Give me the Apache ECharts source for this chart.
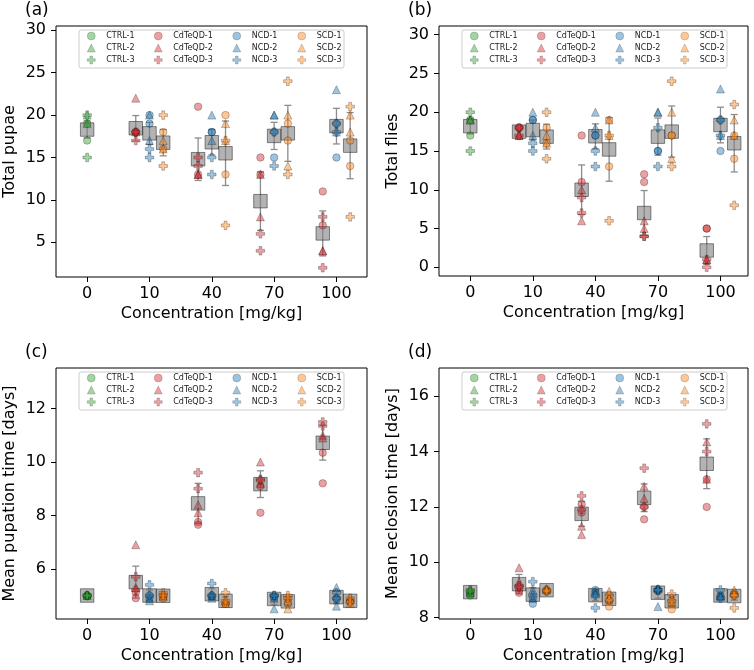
<!DOCTYPE html>
<html>
<head>
<meta charset="utf-8">
<script src="https://cdn.jsdelivr.net/npm/echarts@6/dist/echarts.min.js"></script>
<style>html,body{margin:0;padding:0;background:#fff;}#c{width:754px;height:670px;}</style>
</head>
<body>
<div id="c"></div>
<script>
// ---------- categories / labels ----------
const concLabels = ['0', '10', '40', '70', '100'];
const groupNames = ['CTRL', 'CdTeQD', 'NCD', 'SCD'];
const panelTags = ['(a)', '(b)', '(c)', '(d)'];
const yNames = ['Total pupae', 'Total flies', 'Mean pupation time [days]', 'Mean eclosion time [days]'];
const xName = 'Concentration [mg/kg]';

// tick labels per panel
const pupaeTicks = [5, 10, 15, 20, 25, 30];
const fliesTicks = [0, 5, 10, 15, 20, 25, 30];
const pupTimeTicks = [6, 8, 10, 12];
const eclTimeTicks = [8, 10, 12, 14, 16];

// ---------- (a) Total pupae ----------
// CTRL: replicate 1..3, two values each at 0 mg/kg
const pupaeCTRL = [[17, 19], [19, 20], [20, 15]];
// treatments: replicate -> concentration (10,40,70,100) -> two values
const pupaeCdTeQD = [
  [[18, 18], [21, 13], [15, 13], [11, 7]],
  [[22, 18], [13, 13], [13, 8], [4, 4]],
  [[18, 17], [15, 14], [6, 4], [8, 2]]
];
const pupaeNCD = [
  [[20, 19], [18, 18], [18, 15], [19, 15]],
  [[20, 17], [20, 17], [20, 20], [23, 18]],
  [[16, 15], [15, 13], [18, 14], [19, 18]]
];
const pupaeSCD = [
  [[18, 16], [20, 13], [19, 17], [17, 14]],
  [[17, 16], [19, 17], [20, 14], [20, 18]],
  [[20, 14], [17, 7], [24, 13], [21, 8]]
];
const pupaeMean = [[18.3], [18.45, 14.8, 9.85, 6.05], [17.85, 16.8, 17.55, 18.7], [16.75, 15.5, 17.85, 16.4]];
const pupaeErr = [[1.0], [1.5, 2.5, 3.45, 2.65], [1.3, 1.5, 1.6, 2.1], [1.55, 3.8, 3.3, 3.9]];

// ---------- (b) Total flies ----------
const fliesCTRL = [[17, 19], [19, 19], [20, 15]];
const fliesCdTeQD = [
  [[18, 18], [17, 11], [12, 11], [5, 5]],
  [[17, 17], [10, 6], [6, 5], [1, 1]],
  [[17, 18], [9, 7], [4, 4], [1, 0]]
];
const fliesNCD = [
  [[19, 19], [17, 17], [15, 15], [15, 19]],
  [[20, 17], [20, 18], [20, 20], [23, 17]],
  [[16, 15], [15, 13], [18, 13], [19, 17]]
];
const fliesSCD = [
  [[18, 16], [19, 13], [17, 17], [17, 14]],
  [[17, 16], [19, 17], [20, 14], [19, 17]],
  [[20, 14], [17, 6], [24, 13], [21, 8]]
];
const fliesMean = [[18.2], [17.5, 10.0, 7.0, 2.17], [17.7, 16.9, 16.85, 18.35], [16.85, 15.2, 17.5, 16.0]];
const fliesErr = [[1.0], [0.5, 3.2, 2.9, 1.8], [1.3, 1.6, 2.4, 2.3], [1.6, 4.1, 3.3, 3.7]];

// ---------- (c) Mean pupation time ----------
const pupTimeCTRL = [[5.0, 4.98], [5.0, 5.02], [5.0, 5.0]];
const pupTimeCdTeQD = [
  [[5.1, 4.9], [7.75, 7.65], [9.1, 8.1], [10.35, 9.2]],
  [[6.9, 5.3], [8.4, 8.1], [10.0, 9.2], [11.0, 10.9]],
  [[5.7, 5.2], [9.6, 9.0], [9.35, 9.3], [11.5, 11.35]]
];
const pupTimeNCD = [
  [[5.0, 4.9], [5.0, 4.95], [4.95, 4.9], [4.9, 4.85]],
  [[4.8, 4.9], [5.0, 4.9], [4.9, 4.5], [5.3, 4.6]],
  [[5.4, 5.0], [5.45, 5.0], [5.0, 5.0], [5.1, 4.9]]
];
const pupTimeSCD = [
  [[5.0, 4.9], [4.7, 4.7], [4.8, 4.7], [4.8, 4.75]],
  [[5.0, 4.95], [4.8, 4.7], [4.8, 4.5], [4.9, 4.7]],
  [[5.1, 5.0], [5.1, 4.8], [5.0, 4.9], [4.9, 4.75]]
];
const pupTimeMean = [[5.0], [5.5, 8.45, 9.17, 10.72], [5.0, 5.05, 4.87, 4.94], [4.99, 4.8, 4.78, 4.8]];
const pupTimeErr = [[0.05], [0.6, 0.75, 0.5, 0.65], [0.2, 0.2, 0.2, 0.25], [0.07, 0.15, 0.17, 0.08]];

// ---------- (d) Mean eclosion time ----------
const eclTimeCTRL = [[8.8, 8.85], [8.9, 9.0], [9.0, 8.95]];
const eclTimeCdTeQD = [
  [[9.0, 8.9], [12.1, 11.8], [12.0, 11.55], [13.0, 12.0]],
  [[9.8, 9.3], [11.3, 11.0], [12.75, 12.3], [14.35, 13.0]],
  [[9.15, 9.1], [12.4, 11.9], [13.4, 12.0], [15.0, 14.0]]
];
const eclTimeNCD = [
  [[8.5, 8.7], [9.0, 8.9], [9.0, 8.95], [8.75, 8.8]],
  [[9.0, 8.7], [8.95, 8.85], [9.05, 8.4], [8.8, 8.75]],
  [[9.3, 8.8], [8.8, 8.35], [9.0, 9.0], [9.0, 8.7]]
];
const eclTimeSCD = [
  [[8.95, 9.0], [8.4, 8.6], [8.3, 8.5], [8.85, 8.8]],
  [[9.0, 9.05], [8.95, 8.7], [8.75, 8.55], [9.0, 8.9]],
  [[9.0, 8.95], [8.8, 8.65], [8.85, 8.6], [8.8, 8.35]]
];
const eclTimeMean = [[8.92], [9.21, 11.75, 12.33, 13.56], [8.83, 8.81, 8.9, 8.8], [8.99, 8.68, 8.59, 8.78]];
const eclTimeErr = [[0.08], [0.35, 0.45, 0.5, 0.9], [0.25, 0.2, 0.2, 0.1], [0.05, 0.15, 0.15, 0.15]];

// ---------- styling / layout ----------
const FONT = 'DejaVu Sans';
const groupOffset = [0, -0.22, 0, 0.22];
const fills = ['rgba(44,160,44,0.55)', 'rgba(214,39,40,0.55)', 'rgba(31,119,180,0.55)', 'rgba(255,127,14,0.55)'];
const edge = 'rgba(0,0,0,0.4)';
const PLUS = 'path://M-1,-3L1,-3L1,-1L3,-1L3,1L1,1L1,3L-1,3L-1,1L-3,1L-3,-1L-1,-1Z';
const repSymbols = ['circle', 'triangle', PLUS];
const repSizes = [7.5, 8, 8.5];

const gridBoxes = [
  { left: 56, top: 26, width: 311, height: 251 },
  { left: 439, top: 26, width: 309, height: 250 },
  { left: 56, top: 368, width: 311, height: 251 },
  { left: 439, top: 368, width: 309, height: 251 }
];
const xMax = [4.49, 4.44, 4.49, 4.44];
const yRanges = [[0.91, 30.51], [-1.12, 31.12], [4.12, 13.52], [7.95, 17.02]];

const panels = [
  { groups: [pupaeCTRL, pupaeCdTeQD, pupaeNCD, pupaeSCD], mean: pupaeMean, err: pupaeErr, ticks: pupaeTicks },
  { groups: [fliesCTRL, fliesCdTeQD, fliesNCD, fliesSCD], mean: fliesMean, err: fliesErr, ticks: fliesTicks },
  { groups: [pupTimeCTRL, pupTimeCdTeQD, pupTimeNCD, pupTimeSCD], mean: pupTimeMean, err: pupTimeErr, ticks: pupTimeTicks },
  { groups: [eclTimeCTRL, eclTimeCdTeQD, eclTimeNCD, eclTimeSCD], mean: eclTimeMean, err: eclTimeErr, ticks: eclTimeTicks }
];

const grid = [], xAxis = [], yAxis = [], series = [], legend = [], title = [], graphic = [];

panels.forEach((P, p) => {
  const g = gridBoxes[p];
  grid.push(Object.assign({ show: true, borderColor: '#000', borderWidth: 1, containLabel: false }, g));
  xAxis.push({
    type: 'value', gridIndex: p, min: -0.5, max: xMax[p], position: 'bottom',
    name: xName, nameLocation: 'middle', nameGap: 29,
    nameTextStyle: { fontFamily: FONT, fontSize: 16, color: '#000' },
    axisLine: { show: false, onZero: false },
    axisTick: { show: true, length: 5, customValues: [0, 1, 2, 3, 4], lineStyle: { color: '#000' } },
    axisLabel: { customValues: [0, 1, 2, 3, 4], formatter: v => concLabels[Math.round(v)], fontFamily: FONT, fontSize: 16, color: '#000', margin: 9 },
    splitLine: { show: false }
  });
  yAxis.push({
    type: 'value', gridIndex: p, min: yRanges[p][0], max: yRanges[p][1], position: 'left',
    name: yNames[p], nameLocation: 'middle', nameGap: 38,
    nameTextStyle: { fontFamily: FONT, fontSize: 16, color: '#000' },
    axisLine: { show: false, onZero: false },
    axisTick: { show: true, length: 5, customValues: P.ticks, lineStyle: { color: '#000' } },
    axisLabel: { customValues: P.ticks, fontFamily: FONT, fontSize: 16, color: '#000', margin: 10 },
    splitLine: { show: false }
  });
  title.push({ text: panelTags[p], left: g.left - 31, top: g.top - 24, padding: 0,
    textStyle: { fontFamily: FONT, fontSize: 17, fontWeight: 'normal', color: '#000' } });

  // mean positions
  const meanData = [];
  P.mean.forEach((arr, gi) => arr.forEach((m, ci) => {
    const x = gi === 0 ? 0 : ci + 1 + groupOffset[gi];
    meanData.push([x, m, P.err[gi][ci]]);
  }));
  // error bars
  series.push({
    type: 'custom', xAxisIndex: p, yAxisIndex: p, z: 1, silent: true,
    data: meanData, encode: { x: 0, y: 1 },
    renderItem: (params, api) => {
      const x = api.value(0), m = api.value(1), e = api.value(2);
      const t = api.coord([x, m + e]), b = api.coord([x, m - e]);
      const cap = 3.5;
      const st = { stroke: '#8c8c8c', lineWidth: 1.3 };
      return { type: 'group', children: [
        { type: 'line', shape: { x1: t[0], y1: t[1], x2: b[0], y2: b[1] }, style: st },
        { type: 'line', shape: { x1: t[0] - cap, y1: t[1], x2: t[0] + cap, y2: t[1] }, style: st },
        { type: 'line', shape: { x1: b[0] - cap, y1: b[1], x2: b[0] + cap, y2: b[1] }, style: st }
      ] };
    }
  });
  // mean boxes
  series.push({
    type: 'scatter', xAxisIndex: p, yAxisIndex: p, z: 2, silent: true,
    symbol: 'rect', symbolSize: 13.5,
    itemStyle: { color: 'rgba(128,128,128,0.75)', borderColor: 'rgba(0,0,0,0.55)', borderWidth: 1 },
    data: meanData.map(d => [d[0], d[1]])
  });
  // replicate points
  P.groups.forEach((G, gi) => {
    G.forEach((rep, r) => {
      const data = [];
      if (gi === 0) {
        rep.forEach(v => data.push([0, v]));
      } else {
        rep.forEach((pair, ci) => pair.forEach(v => data.push([ci + 1 + groupOffset[gi], v])));
      }
      series.push({
        type: 'scatter', name: groupNames[gi] + '-' + (r + 1), xAxisIndex: p, yAxisIndex: p, z: 3,
        symbol: repSymbols[r], symbolSize: repSizes[r],
        itemStyle: { color: fills[gi], borderColor: edge, borderWidth: 0.8 },
        data
      });
    });
  });

  // legend frame
  graphic.push({
    type: 'rect', z: 3, silent: true,
    shape: { x: g.left + 23, y: g.top + 4, width: 265, height: 38, r: 2 },
    style: { fill: 'rgba(255,255,255,0.8)', stroke: '#cccccc', lineWidth: 1 }
  });
  const colX = [31, 98, 176.5, 241.5];
  groupNames.forEach((gn, gi) => {
    legend.push({
      orient: 'vertical', left: g.left + colX[gi], top: g.top + 4, padding: 0, itemGap: 0,
      itemWidth: 8, itemHeight: 8, selectedMode: false, z: 5,
      itemStyle: { borderWidth: 0.5 },
      textStyle: { fontFamily: FONT, fontSize: 8, color: '#222', lineHeight: 12, padding: [0, 0, 0, 6] },
      data: [1, 2, 3].map((k, r) => ({ name: gn + '-' + k, icon: repSymbols[r] }))
    });
  });
});

const chart = echarts.init(document.getElementById('c'), null, { renderer: 'canvas' });
chart.setOption({
  animation: false, backgroundColor: '#fff',
  title, grid, xAxis, yAxis, legend, graphic, series
});
</script>
</body>
</html>
